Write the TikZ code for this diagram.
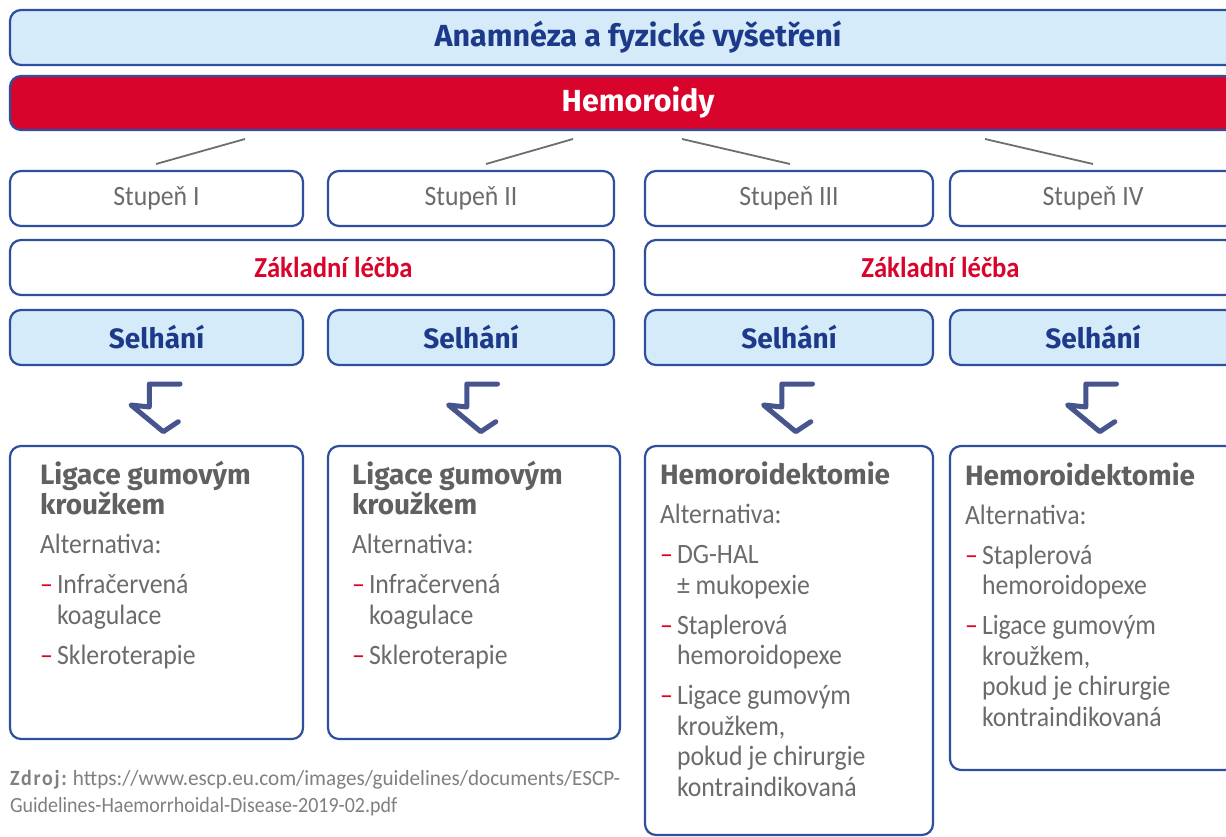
\documentclass[tikz,border=0pt]{standalone}
\usepackage{fontspec}
\setmainfont{Carlito}[FakeStretch=0.92]
\newfontfamily\hfont{Fira Sans}
\definecolor{bord}{HTML}{2E4F9E}
\definecolor{lblue}{HTML}{D5EBFA}
\definecolor{navy}{HTML}{1D3A8A}
\definecolor{hred}{HTML}{D9042B}
\definecolor{txtgray}{HTML}{6B6B6B}
\definecolor{hdgray}{HTML}{606060}
\definecolor{dashred}{HTML}{E2001A}
\definecolor{arrowc}{HTML}{47558F}
\definecolor{lgray}{HTML}{6E6E6E}
\definecolor{fgray}{HTML}{808080}
\newcommand\itm[1]{\makebox[17pt][l]{\textcolor{dashred}{–}}#1}
\newcommand\ind{\hspace*{17pt}}
\newcommand\hd[1]{{\hfont\bfseries\fontsize{28}{30.5}\selectfont\color{hdgray}#1}}
\tikzset{
  box/.style={draw=bord, line width=2.2, rounded corners=11, inner sep=0, outer sep=0, minimum height=55},
  bluebox/.style={box, fill=lblue, text=navy, font=\hfont\bfseries\fontsize{28}{30}\selectfont},
  whitebox/.style={box, fill=white, text=txtgray, font=\fontsize{28}{30}\selectfont},
  redtext/.style={box, fill=white, text=hred, font=\bfseries\fontsize{29}{30}\selectfont},
  conn/.style={draw=lgray, line width=1.8},
  bodytext/.style={anchor=base west, align=left, inner sep=0, outer sep=0, text=txtgray, font=\fontsize{28}{30.5}\selectfont},
  bendarrow/.pic={\draw[draw=arrowc, line width=5, line cap=round, line join=round]
     (23.5,0) -- (-7.2,0) -- (-7.2,23) -- (-25.5,21) -- (6.8,47.7) -- (21.8,37.7);}
}
\begin{document}
\begin{tikzpicture}[x=1pt,y=-1pt]
\clip (0,0) rectangle (1226,837);
\fill[white] (0,0) rectangle (1226,837);
% top boxes
\node[bluebox, minimum width=1256, font=\hfont\bfseries\fontsize{30.5}{32}\selectfont] (anam) at (638,37.5) {Anamnéza a fyzické vyšetření};
\node[box, fill=hred, text=white, minimum width=1256, minimum height=54, font=\hfont\bfseries\fontsize{30.5}{32}\selectfont] (hem) at (638,103) {Hemoroidy};
% grade boxes
\node[whitebox, minimum width=293] (s1) at (156.5,198.5) {Stupeň I};
\node[whitebox, minimum width=286] (s2) at (471,198.5) {Stupeň II};
\node[whitebox, minimum width=288] (s3) at (789,198.5) {Stupeň III};
\node[whitebox, minimum width=286] (s4) at (1093,198.5) {Stupeň IV};
% connectors
\coordinate (c1a) at (245,139); \coordinate (c1b) at (156,164);
\coordinate (c2a) at (573,139); \coordinate (c2b) at (486,164);
\coordinate (c3a) at (682,139); \coordinate (c3b) at (790,164);
\coordinate (c4a) at (985,139); \coordinate (c4b) at (1093,164);
\draw[conn] (c1a) -- (c1b);
\draw[conn] (c2a) -- (c2b);
\draw[conn] (c3a) -- (c3b);
\draw[conn] (c4a) -- (c4b);
% basic treatment
\node[redtext, minimum width=604] (z1) at (312,267.5) {\hspace*{43pt}Základní léčba};
\node[redtext, minimum width=591] (z2) at (940.5,267.5) {Základní léčba};
% failure boxes
\node[bluebox, minimum width=293] (f1) at (156.5,337.5) {Selhání};
\node[bluebox, minimum width=286] (f2) at (471,337.5) {Selhání};
\node[bluebox, minimum width=288] (f3) at (789,337.5) {Selhání};
\node[bluebox, minimum width=286] (f4) at (1093,337.5) {Selhání};
% arrows
\pic at (156.5,384) {bendarrow};
\pic at (474,384) {bendarrow};
\pic at (789,384) {bendarrow};
\pic at (1093,384) {bendarrow};
% content boxes
\node[box, fill=white, minimum width=293, minimum height=293] (b1) at (156.5,592.5) {};
\node[box, fill=white, minimum width=292, minimum height=293] (b2) at (474,592.5) {};
\node[box, fill=white, minimum width=288, minimum height=389] (b3) at (789,640.5) {};
\node[box, fill=white, minimum width=286, minimum height=324] (b4) at (1093,608) {};
\node[bodytext] (t1) at (40,664) {\hd{Ligace gumovým}\\\hd{kroužkem}\\[8.5pt]Alternativa:\\[9.5pt]\itm{Infračervená}\\\ind koagulace\\[9.5pt]\itm{Skleroterapie}};
\node[bodytext] (t2) at (352,664) {\hd{Ligace gumovým}\\\hd{kroužkem}\\[8.5pt]Alternativa:\\[9.5pt]\itm{Infračervená}\\\ind koagulace\\[9.5pt]\itm{Skleroterapie}};
\node[bodytext] (t3) at (660,796) {\hd{Hemoroidektomie}\\[8.5pt]Alternativa:\\[9.5pt]\itm{DG-HAL}\\\ind ± mukopexie\\[9.5pt]\itm{Staplerová}\\\ind hemoroidopexe\\[9.5pt]\itm{Ligace gumovým}\\\ind kroužkem,\\\ind pokud je chirurgie\\\ind kontraindikovaná};
\node[bodytext] (t4) at (965,726) {\hd{Hemoroidektomie}\\[8.5pt]Alternativa:\\[9.5pt]\itm{Staplerová}\\\ind hemoroidopexe\\[9.5pt]\itm{Ligace gumovým}\\\ind kroužkem,\\\ind pokud je chirurgie\\\ind kontraindikovaná};
% source
\node[bodytext, text=fgray, font=\fontsize{21.7}{27}\selectfont] (src) at (10,812) {{\bfseries\addfontfeature{LetterSpace=8}Zdroj:} \scalebox{1.06}[1]{https://www.escp.eu.com/images/guidelines/documents/ESCP-}\\Guidelines-Haemorrhoidal-Disease-2019-02.pdf};
\end{tikzpicture}
\end{document}
